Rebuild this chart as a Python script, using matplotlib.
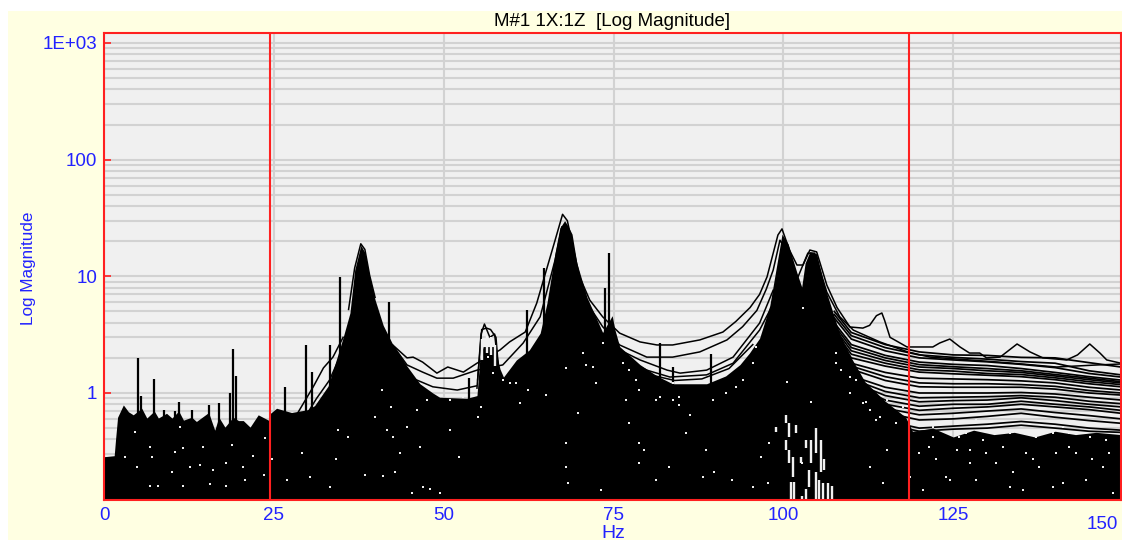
import matplotlib
matplotlib.use("Agg")
import matplotlib.pyplot as plt
from matplotlib.patches import Rectangle
from matplotlib.ticker import FixedLocator, NullFormatter, FixedFormatter

plt.rcParams['font.family'] = ['Liberation Sans', 'DejaVu Sans']

title = "M#1 1X:1Z  [Log Magnitude]"
x_label = "Hz"
y_label = "Log Magnitude"
x_ticks = [0, 25, 50, 75, 100, 125]
x_tick_labels = ["0", "25", "50", "75", "100", "125"]
y_ticks = [1, 10, 100, 1000]
y_tick_labels = ["1", "10", "100", "1E+03"]
cursors_hz = [24.4, 118.5]

# solid mass of overlaid spectra: upper edge
mass_hz = [0, 0.2, 1.5, 1.7, 2.0, 2.85, 3.6, 4.3, 5.55, 6.3, 7.4, 8, 9.2, 10, 11, 11.7, 12.9, 13.6, 15.4, 16.3, 16.9,
           17.8, 19, 19.8, 20.5, 21.5, 22.7, 24.2, 24.5, 25.4, 27.6, 30, 31, 33, 34.7, 35.2, 36.2, 36.9, 37.8, 38.4,
           39.1, 39.9, 41.1, 42.4, 44.6, 46.5, 48.4, 49.4, 53.4, 54.9, 55.3, 55.8, 56.8, 57.5, 58.3, 58.8, 60.7, 62.6,
           64.2, 65.2, 66.4, 67.1, 67.8, 68.3, 68.9, 69.6, 71.1, 73.4, 74.8, 75.2, 75.9, 78.9, 81.4, 83.7, 88.7,
           91.5, 93.6, 95, 96.5, 98, 99.8, 100.7, 102, 102.7, 103.2, 103.9, 104.9, 106.1, 108.3, 110, 112, 115, 118,
           119, 122, 125, 128, 131, 134, 137, 140, 143, 146, 149.7]
mass_mag = [.285, .285, .29, .40, .62, .79, .69, .65, .74, .61, .70, .61, .67, .61, .70, .585, .62, .57, .68, .48, .62,
            .51, .62, .58, .58, .51, .65, .585, .67, .74, .68, .72, .78, 1.15, 2.4, 3.0, 4.85, 11.3, 18.5, 16.0,
            9.9, 6.3, 3.8, 2.68, 1.7, 1.2, 1.0, .92, .90, .95, 1.9, 2.5, 2.5, 2.5, 1.6, 1.37, 1.92, 2.34,
            3.26, 5.9, 16.0, 26.0, 30.0, 27.0, 23.0, 13.0, 6.6, 3.3, 4.6, 3.5, 2.5, 1.75, 1.4, 1.2, 1.2,
            1.4, 1.75, 2.2, 2.95, 5.6, 23.0, 19.0, 10.7, 8.1, 13.0, 16.3, 15.6, 8.1, 3.2, 2.0, 1.25, .85, .62,
            .47, .50, .42, .48, .44, .46, .42, .47, .44, .46, .44]

# floating pale slivers near the foot of the mass around 100-107 Hz
sliver_hz = [100.4, 100.9, 101.9, 98.9, 100.4, 100.9, 101.4, 102.6, 103.3, 104.1, 104.8, 105.5, 106.0, 103.8, 104.8,
             105.3, 105.8, 106.5, 107.2, 101.1, 101.6, 103.3, 102.8, 55.6, 56.4, 57.0, 57.6]
sliver_low = [.55, .42, .45, .46, .325, .25, .19, .25, .34, .25, .305, .21, .22, .155, .121,
              .121, .121, .121, .121, .121, .121, .121, .121, 1.9, 2.2, 2.1, 1.7]
sliver_high = [.65, .55, .53, .51, .395, .325, .28, .28, .395, .395, .5, .395, .27, .22, .21,
               .18, .17, .17, .16, .173, .173, .15, .13, 2.9, 3.1, 3.0, 2.6]

# narrow spikes
spike_hz = [4.95, 7.4, 11.0, 12.9, 15.4, 16.9, 19.0, 26.6, 29.8, 33.3, 34.7, 41.9, 53.8, 62.2, 64.8, 73.7, 74.3, 81.8,
            83.7, 89.3, 5.5, 8.8, 10.4, 18.6, 19.4, 30.6]
spike_mag = [2.0, 1.32, .84, .715, .79, .82, 2.38, 1.12, 2.57, 2.57, 9.8, 6.0, 1.35, 5.1, 11.8, 7.9, 15.8, 2.68,
             1.67, 2.16, .95, .72, .7, 1.0, 1.4, 1.5]

# individually visible traces
trace_a_hz = [42.5, 44.6, 45.5, 46.9, 49, 50.6, 52.9, 54.9, 58.3, 59.7, 62, 63.7, 66.4, 67.5, 68.2, 70, 71.5, 73.4,
              75.9, 78.9, 81.4, 83.7, 87.7, 91.1, 93, 95.1, 96.5, 97.6, 99.2, 99.8, 100.9, 102, 102.9, 103.9, 104.9,
              106.4, 107.9, 109.8, 111.7, 112.7, 113.7, 114.5, 114.9, 115.7, 116.9, 118.2, 122, 123, 124.5, 126, 127.4,
              128.9, 129.9, 131.9, 134.4, 136.3, 138.2, 141.7, 143.3, 145.1, 146.6, 147.6, 149.5]
trace_a_mag = [2.58, 2.0, 2.03, 1.84, 1.48, 1.67, 1.51, 1.8, 2.34, 2.74, 3.33, 5.9, 20.4, 34.0, 30.0, 9.9, 6.26, 4.5,
               3.26, 2.74, 2.58, 2.58, 2.85, 3.33, 4.1, 5.4, 7.0, 9.9, 22.6, 25.5, 16.8, 12.5, 12.5, 16.8, 16.2,
               8.4, 5.4, 3.68, 3.6, 3.8, 4.6, 4.85, 4.2, 3.0, 2.74, 2.48, 2.48, 2.68, 2.9, 2.48, 2.2,
               2.2, 2.0, 2.03, 2.63, 2.25, 2.0, 1.92, 2.12, 2.63, 2.2, 1.92, 1.81]
trace_b_hz = [42.8, 44.6, 46.9, 49, 51.4, 54.9, 58.7, 61.7, 64.2, 66.4, 67.4, 68.3, 69.6, 71.1, 73.4, 75.9, 79.9, 83.7,
              87.7, 91.7, 94, 96.1, 97.5, 98.5, 99.5, 100.7, 102.1, 103.6, 104.6, 106.4, 108.3, 110.3, 114.2, 118.3,
              121.6, 127.4, 133.3, 140.2, 146.3, 149.5]
trace_b_mag = [2.43, 1.74, 1.51, 1.34, 1.34, 1.57, 1.74, 2.68, 4.5, 13.8, 26.6, 22.0, 11.3, 5.9, 3.7, 2.58, 2.03, 2.03,
               2.25, 2.85, 3.7, 5.1, 7.8, 11.3, 20.4, 15.8, 9.7, 15.8, 15.8, 7.3, 4.5, 3.46, 2.74, 2.25,
               2.03, 1.92, 1.81, 1.67, 1.74, 1.77]
trace_c_hz = [42.8, 45, 48.4, 52, 54.8]
trace_c_mag = [2.1, 1.37, 1.13, 1.06, 1.15]
trace_d_hz = [75.9, 78.9, 82.9, 84.8, 88.7, 92.6, 96.5, 98.5]
trace_d_mag = [2.34, 1.92, 1.57, 1.48, 1.57, 2.03, 3.97, 7.6]
trace_e_hz = [75.9, 79.9, 83.3, 88.7, 92.6, 96.5, 99]
trace_e_mag = [2.03, 1.57, 1.37, 1.43, 1.8, 3.46, 6.6]
trace_f_hz = [27.9, 30.8, 32.3, 33.7, 35.2]
trace_f_mag = [.587, 1.13, 1.64, 2.03, 3.0]
trace_g_hz = [28.4, 31.3, 33.2, 34.7]
trace_g_mag = [.48, .9, 1.29, 2.03]
trace_h_hz = [54.9, 55.5, 56.0, 56.8, 57.5, 58.2, 59.0]
trace_h_mag = [1.1, 3.2, 3.9, 3.0, 3.2, 1.4, 1.3]
trace_i_hz = [55.0, 55.6, 56.3, 56.9, 57.7, 58.0]
trace_i_mag = [1.3, 3.5, 3.6, 3.5, 3.0, 1.8]
trace_j_hz = [36.0, 36.9, 37.8, 38.4, 39.1, 39.9]
trace_j_mag = [5.2, 11.8, 19.0, 17.0, 10.2, 6.6]
trace_k_hz = [76, 80, 84, 88, 92, 95.5]
trace_k_mag = [1.85, 1.45, 1.28, 1.32, 1.62, 2.6]

# high-frequency family of spectra
tail_hz = [107.5, 110, 115, 120, 125, 130, 135, 140, 145, 149.7]
tail_1 = [5.0, 3.3, 2.6, 2.25, 2.12, 2.1, 2.02, 2.0, 1.82, 1.67]
tail_2 = [4.7, 3.1, 2.45, 2.12, 2.02, 1.95, 1.86, 1.8, 1.55, 1.43]
tail_3 = [4.4, 2.9, 2.3, 2.0, 1.92, 1.85, 1.76, 1.65, 1.47, 1.37]
tail_4 = [4.0, 2.6, 2.1, 1.84, 1.76, 1.72, 1.62, 1.5, 1.38, 1.29]
tail_5 = [3.6, 2.3, 1.9, 1.67, 1.62, 1.55, 1.5, 1.4, 1.3, 1.22]
tail_6 = [3.2, 2.0, 1.7, 1.51, 1.46, 1.42, 1.38, 1.3, 1.2, 1.13]
tail_7 = [3.0, 1.8, 1.5, 1.34, 1.32, 1.3, 1.27, 1.22, 1.12, 1.06]
tail_8 = [2.8, 1.6, 1.28, 1.13, 1.12, 1.12, 1.12, 1.08, 1.0, .96]
tail_9 = [2.6, 1.4, 1.12, 1.0, 1.0, 1.0, 1.01, .98, .92, .87]
tail_10 = [2.4, 1.25, .95, .84, .86, .87, .91, .86, .8, .76]
tail_11 = [2.2, 1.1, .8, .71, .74, .76, .8, .76, .72, .67]
tail_12 = [2.0, .95, .68, .587, .6, .63, .67, .62, .58, .55]
tail_13 = [1.9, .85, .58, .50, .52, .54, .57, .54, .5, .48]
tail_14 = [3.8, 2.45, 2.0, 1.75, 1.68, 1.62, 1.55, 1.44, 1.34, 1.25]
tail_15 = [3.4, 2.15, 1.8, 1.58, 1.54, 1.47, 1.44, 1.35, 1.25, 1.18]
tail_16 = [2.9, 1.7, 1.38, 1.22, 1.2, 1.2, 1.18, 1.14, 1.05, 1.0]
tail_17 = [2.5, 1.32, 1.03, .91, .92, .93, .95, .92, .85, .81]
tail_18 = [2.3, 1.18, .87, .77, .8, .8, .85, .8, .76, .71]
tail_19 = [2.1, 1.02, .74, .65, .67, .7, .73, .68, .64, .6]
tail_20 = [1.8, .78, .54, .47, .49, .5, .53, .5, .47, .46]
tail_traces = [tail_1, tail_2, tail_3, tail_4, tail_5, tail_6, tail_7, tail_8, tail_9, tail_10, tail_11, tail_12,
               tail_13, tail_14, tail_15, tail_16, tail_17, tail_18, tail_19, tail_20]

# pale gaps left between overlaid traces inside the mass
gap_dot_hz = [4.6, 10.4, 16.1, 20.5, 11.2, 6.8, 8, 11.7, 15.6, 20.7, 18, 23.5, 3.1, 4.8, 7, 10, 12.7, 14.1, 18, 21.9,
              18.8, 14.6, 11.7, 6.8, 23.7, 24.7, 29.1, 26.9, 30.3, 34.2, 35.9, 34.5, 33.3, 38.4, 41.1, 39.9, 40.9,
              41.6, 42.6, 43.6, 42.8, 45.3, 47, 48, 46.5, 44.6, 46, 47.5, 42.3,
              55, 50.9, 52.3, 49.4, 69.7, 68, 68, 68.3, 73.2, 77.3, 78.8, 79.5, 78.8, 81.3, 83.2, 84.7, 86.2, 85.7,
              88.6, 88.1, 89.8, 92.5, 95.5, 96.7, 97.9, 97.7, 98.9, 100.9, 101.9, 100.9, 102.8,
              102.9, 100.5, 104.1, 107.8, 109.8, 112.2, 113.7, 112.7, 114.7, 115.2, 118.6, 121.5, 124, 127.4, 126.9,
              131.3, 135.7, 137.7, 142.1, 147, 144.6, 133.3, 139.7, 147.5, 122, 139.7, 141.1, 128.4,
              76.4, 77.3, 78.3, 78.8, 76.9, 81.8, 81.3, 83.7, 84.7, 83.7, 89.6, 91.6, 93, 94, 95.5, 96, 70.5, 68, 71,
              72, 73.4, 72.4, 65.1, 62.4, 61.2, 59.7, 58.7, 60.7, 57.2, 56.5, 55.8, 50.9, 52.8, 55.5,
              109.8, 111.7, 110.7, 112.7, 114.2, 115.2, 116.6, 117.6, 107.8, 108.5,
              120, 122.5, 125.5, 127.4, 129.9, 132.3, 133.8, 136.7, 140.2, 143.1, 145.5, 148, 120.5, 124.5, 128.4,
              135.3, 141.1, 148.5, 122, 125.9, 129.4, 133.3, 137.2, 142.1, 145.1]
gap_dot_mag = [.46, .31, .22, .23, .51, .16, .16, .16, .165, .18, .16, .2, .28, .23, .28, .21, .23, .24, .25, .29,
               .36, .345, .34, .345, .41, .27, .305, .18, .19, .27, .42, .48, .155, .2, .195, .62, 1.06,
               .48, .42, .305, .21, .14, .155, .15, .345, .51, .715, .87, .76,
               .62, .48, .28, .14, .67, .37, .23, .17, .148, .55, .37, .325, .25, .18, .23, .79, .65, .45,
               .325, .19, .21, .18, .155, .28, .37, .17, .48, .48, .47, .27, .25,
               5.4, 1.24, .84, 2.2, 1.37, .84, .587, .23, .17, .325, .19, .345, .19, .325, .45,
               .25, .305, .23, .345, .23, .18, .155, .155, .395, .51, .45, .51, .587,
               1.8, 1.57, 1.29, 1.06, .87, .92, .87, 1.22, .92, .87, .87, 1.0, 1.13, 1.29, 1.8, 2.48, 2.2, 1.64, 1.74,
               1.67, 2.68, 1.22, .96, 1.06, .82, 1.22, 1.29, 1.22, 1.48, 2.03, 2.68, .87, .92, .76,
               1.0, .82, 1.29, .715, .62, .87, .55, .76, 1.8, 1.57,
               .305, .27, .325, .25, .305, .345, .21, .27, .305, .305, .27, .305, .148, .18, .18,
               .148, .17, .14, .42, .42, .395, .45, .42, .45, .42]

W, H = 1122, 540
fig = plt.figure(figsize=(W / 100, H / 100), dpi=100, facecolor="white")
fig.add_artist(Rectangle((8 / W, 0), 1 - 8 / W, 1 - 11 / H, transform=fig.transFigure,
                         facecolor="#ffffe2", edgecolor="none", zorder=-10))
ax = fig.add_axes([104 / W, 40 / H, 1017 / W, 467 / H], facecolor="#f0f0f0")
ax.set_yscale("log")
ax.set_xlim(0, 149.7)
ax.set_ylim(0.121, 1218)

red = "#ff2020"
blue = "#2222ff"
ax.xaxis.set_major_locator(FixedLocator(x_ticks))
ax.xaxis.set_major_formatter(FixedFormatter(x_tick_labels))
ax.yaxis.set_major_locator(FixedLocator(y_ticks))
ax.yaxis.set_major_formatter(FixedFormatter(y_tick_labels))
minor = [m * 10.0 ** e for e in range(-1, 3) for m in range(2, 10)]
ax.yaxis.set_minor_locator(FixedLocator(minor))
ax.yaxis.set_minor_formatter(NullFormatter())
ax.tick_params(axis="both", which="major", direction="in", length=5, width=1.2, color=red,
               labelcolor=blue, labelsize=13.5, pad=5)
ax.tick_params(axis="y", which="minor", length=0)
ax.set_axisbelow(True)
ax.grid(True, which="both", axis="y", color="#d2d2d2", lw=1.5)
ax.grid(True, which="major", axis="x", color="#d2d2d2", lw=1.5)
for s in ax.spines.values():
    s.set_color(red)
    s.set_linewidth(1.5)
    s.set_zorder(10)

k = "black"
ax.fill_between(mass_hz, 0.121, mass_mag, color=k, lw=0, zorder=3)
ax.vlines(spike_hz, 0.4, spike_mag, color=k, lw=1.6, zorder=5)
for hz, mag in [(trace_a_hz, trace_a_mag), (trace_b_hz, trace_b_mag), (trace_c_hz, trace_c_mag),
                (trace_d_hz, trace_d_mag), (trace_e_hz, trace_e_mag), (trace_f_hz, trace_f_mag),
                (trace_g_hz, trace_g_mag), (trace_h_hz, trace_h_mag), (trace_i_hz, trace_i_mag),
                (trace_j_hz, trace_j_mag), (trace_k_hz, trace_k_mag)]:
    ax.plot(hz, mag, color=k, lw=1.1, zorder=5)
for mag in tail_traces:
    ax.plot(tail_hz, mag, color=k, lw=1.25, zorder=5)
ax.vlines(sliver_hz, sliver_low, sliver_high, color="#f0f0f0", lw=1.7, zorder=6)
ax.plot(gap_dot_hz, gap_dot_mag, ls="none", marker="s", ms=1.7, mew=0, color="#f0f0f0", zorder=6)
for c in cursors_hz:
    ax.axvline(c, color=red, lw=1.5, zorder=9)

ax.text(147, 0.0875, "150", color=blue, fontsize=13.5, ha="center", va="top", clip_on=False)
fig.text(612 / W, 1 - 22 / H, title, color="black", fontsize=13.5, ha="center", va="center")
fig.text(613 / W, 1 - 533 / H, x_label, color=blue, fontsize=14, ha="center", va="center")
fig.text(29 / W, 1 - 268 / H, y_label, color=blue, fontsize=12.3, rotation=90, ha="center", va="center")

fig.savefig("out.png", dpi=100, facecolor=fig.get_facecolor())
